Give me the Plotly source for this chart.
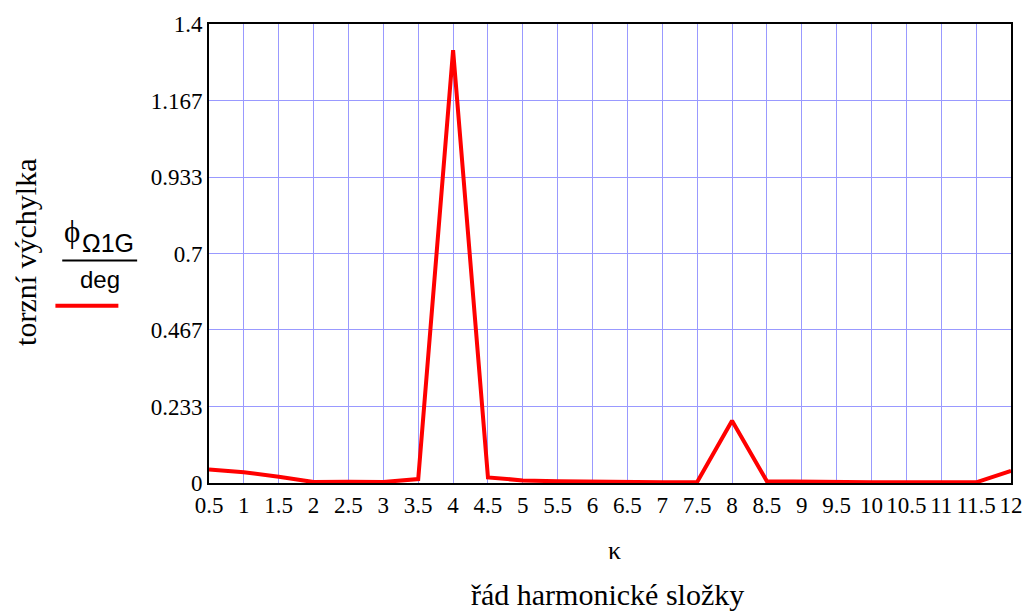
import plotly.graph_objects as go

# harmonic order and torsional amplitude
kappa = [0.5, 1, 1.5, 2, 2.5, 3, 3.5, 4, 4.5, 5, 5.5, 6, 6.5, 7, 7.5, 8,
         8.5, 9, 9.5, 10, 10.5, 11, 11.5, 12]
phi_deg = [0.041, 0.033, 0.019, 0.003, 0.004, 0.003, 0.012, 1.32, 0.017, 0.008,
           0.005, 0.003, 0.002, 0.002, 0.003, 0.19, 0.005, 0.003, 0.002, 0.002,
           0.002, 0.002, 0.002, 0.037]

x_ticks = [0.5 * i for i in range(1, 25)]
x_labels = [("%g" % v) for v in x_ticks]
y_ticks = [0, 0.2333, 0.4667, 0.7, 0.9333, 1.1667, 1.4]
y_labels = ["0", "0.233", "0.467", "0.7", "0.933", "1.167", "1.4"]

serif = "Times New Roman, Liberation Serif, DejaVu Serif, serif"
sans = "Arial, Liberation Sans, sans-serif"

fig = go.Figure()
fig.add_trace(go.Scatter(x=kappa, y=phi_deg, mode="lines",
                         line=dict(color="#ff0000", width=4),
                         showlegend=False, cliponaxis=False))

fig.update_layout(
    width=1035, height=614,
    margin=dict(l=209, r=22, t=19, b=131),
    paper_bgcolor="white", plot_bgcolor="white",
    font=dict(family=serif, size=23, color="black"),
    xaxis=dict(range=[0.5, 12], tickvals=x_ticks, ticktext=x_labels,
               showgrid=True, gridcolor="#9999ff", gridwidth=1,
               showline=True, linecolor="black", linewidth=2, mirror=True,
               ticks="", zeroline=False, tickangle=0,
               tickfont=dict(family=serif, size=23)),
    yaxis=dict(range=[0, 1.4], tickvals=y_ticks, ticktext=y_labels,
               showgrid=True, gridcolor="#9999ff", gridwidth=1,
               showline=True, linecolor="black", linewidth=2, mirror=True,
               ticks="", zeroline=False,
               tickfont=dict(family=serif, size=23)),
)

# axis titles
fig.add_annotation(text="κ", xref="paper", yref="paper", x=0.505, y=-0.147,
                   xanchor="center", yanchor="middle", showarrow=False,
                   font=dict(family=serif, size=26))
fig.add_annotation(text="řád harmonické složky", xref="paper", yref="paper",
                   x=0.4975, y=-0.243, xanchor="center", yanchor="middle",
                   showarrow=False, font=dict(family=serif, size=30))
fig.add_annotation(text="torzní výchylka", xref="paper", yref="paper",
                   x=-0.229, y=0.502, xanchor="center", yanchor="middle",
                   textangle=-90, showarrow=False,
                   font=dict(family=serif, size=30))

# series label: fraction with line sample
fig.add_annotation(text="ϕ", xref="paper", yref="paper",
                   x=-0.171, y=0.547, xanchor="center", yanchor="middle",
                   showarrow=False, font=dict(family=serif, size=31))
fig.add_annotation(text="Ω1G", xref="paper", yref="paper",
                   x=-0.126, y=0.522, xanchor="center", yanchor="middle",
                   showarrow=False, font=dict(family=sans, size=25))
fig.add_annotation(text="deg", xref="paper", yref="paper",
                   x=-0.1356, y=0.444, xanchor="center", yanchor="middle",
                   showarrow=False, font=dict(family=sans, size=24))
fig.add_shape(type="line", xref="paper", yref="paper",
              x0=-0.183, x1=-0.0896, y0=0.485, y1=0.485,
              line=dict(color="black", width=2))
fig.add_shape(type="line", xref="paper", yref="paper",
              x0=-0.1915, x1=-0.113, y0=0.386, y1=0.386,
              line=dict(color="#ff0000", width=4))

fig.write_html("out.html")
